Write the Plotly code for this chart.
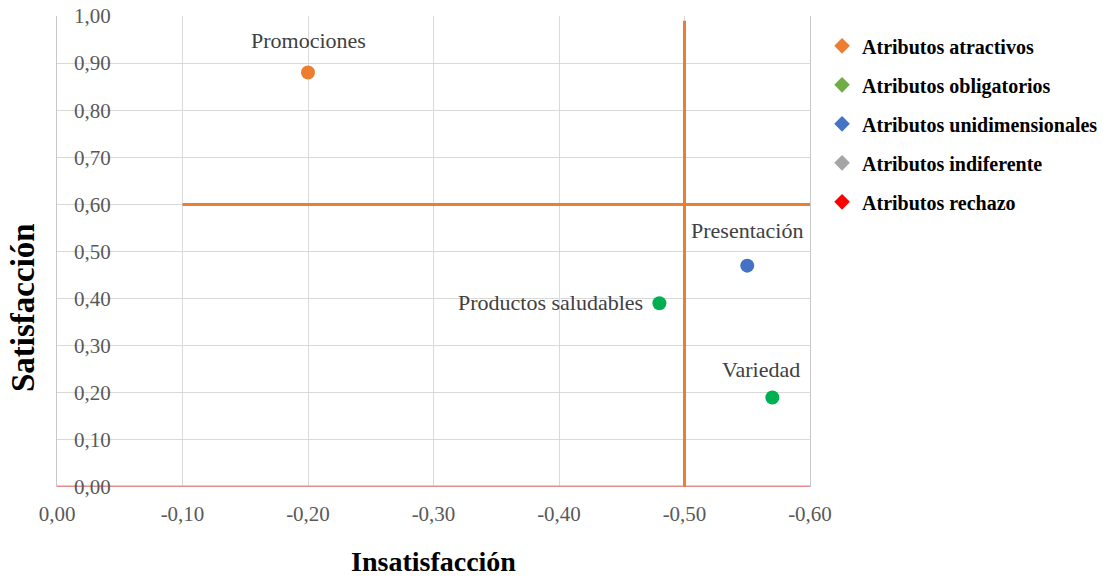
import plotly.graph_objects as go

# ---- data ----
attributes = ["Promociones", "Presentación", "Productos saludables", "Variedad"]
dissatisfaction = [-0.20, -0.55, -0.48, -0.57]
satisfaction = [0.88, 0.47, 0.39, 0.19]
category = ["Atributos atractivos", "Atributos unidimensionales",
            "Atributos obligatorios", "Atributos obligatorios"]

legend_names = ["Atributos atractivos", "Atributos obligatorios",
                "Atributos unidimensionales", "Atributos indiferente",
                "Atributos rechazo"]
legend_colors = ["#ED7D31", "#70AD47", "#4472C4", "#A5A5A5", "#FF0000"]
point_colors = {"Atributos atractivos": "#ED7D31",
                "Atributos obligatorios": "#00B050",
                "Atributos unidimensionales": "#4472C4"}

x_ticks = [0.0, -0.1, -0.2, -0.3, -0.4, -0.5, -0.6]
x_tick_labels = ["0,00", "-0,10", "-0,20", "-0,30", "-0,40", "-0,50", "-0,60"]
y_ticks = [0.0, 0.1, 0.2, 0.3, 0.4, 0.5, 0.6, 0.7, 0.8, 0.9, 1.0]
y_tick_labels = ["0,00", "0,10", "0,20", "0,30", "0,40", "0,50",
                 "0,60", "0,70", "0,80", "0,90", "1,00"]

x_title = "Insatisfacción"
y_title = "Satisfacción"

# threshold lines
sat_threshold_x = [-0.10, -0.60]
sat_threshold_y = [0.60, 0.60]
dis_threshold_x = [-0.50, -0.50]
dis_threshold_y = [0.0, 0.99]
zero_line_x = [0.0, -0.60]
zero_line_y = [0.0, 0.0]

# label placement (style)
label_xshift = [0, 0, -14, -11]
label_yshift = [32, 35, 1, 28]
label_xanchor = ["center", "center", "right", "center"]

SERIF = "Liberation Serif"

fig = go.Figure()

fig.add_trace(go.Scatter(x=zero_line_x, y=zero_line_y, mode="lines",
                         line=dict(color="#E38E8E", width=3),
                         showlegend=False, hoverinfo="skip", cliponaxis=False))
fig.add_trace(go.Scatter(x=sat_threshold_x, y=sat_threshold_y, mode="lines",
                         line=dict(color="#ED7D31", width=3),
                         showlegend=False, hoverinfo="skip", cliponaxis=False))
fig.add_trace(go.Scatter(x=dis_threshold_x, y=dis_threshold_y, mode="lines",
                         line=dict(color="#ED7D31", width=3),
                         showlegend=False, hoverinfo="skip", cliponaxis=False))

# points
for cat, col in point_colors.items():
    xs = [x for x, c in zip(dissatisfaction, category) if c == cat]
    ys = [y for y, c in zip(satisfaction, category) if c == cat]
    fig.add_trace(go.Scatter(x=xs, y=ys, mode="markers",
                             marker=dict(color=col, size=14, line=dict(width=0)),
                             showlegend=False, name=cat))

# legend entries
for i, (name, col) in enumerate(zip(legend_names, legend_colors)):
    fig.add_trace(go.Scatter(x=[None], y=[None], mode="markers", name=name,
                             legendgroup=f"g{i}",
                             marker=dict(symbol="diamond", color=col, size=16,
                                         line=dict(width=0))))

for name, x, y, xs, ys, xa in zip(attributes, dissatisfaction, satisfaction,
                                  label_xshift, label_yshift, label_xanchor):
    fig.add_annotation(x=x, y=y, text=name, showarrow=False,
                       xshift=xs, yshift=ys, xanchor=xa, yanchor="middle",
                       font=dict(family=SERIF, size=22, color="#404040"))

# y-axis title (placed like the reference, below centre)
fig.add_annotation(xref="paper", yref="paper", x=(23 - 57) / 753,
                   y=(487 - 308) / 471, text=y_title, textangle=-90,
                   showarrow=False, xanchor="center", yanchor="middle",
                   font=dict(family=SERIF, size=33, color="black",
                             weight="bold"))

fig.update_layout(
    width=1109, height=577,
    margin=dict(l=57, r=299, t=16, b=90, autoexpand=False),
    paper_bgcolor="white", plot_bgcolor="white",
    showlegend=True,
    legend=dict(x=1.016, y=0.978, xanchor="left", yanchor="top",
                traceorder="grouped", tracegroupgap=10,
                font=dict(family=SERIF, size=20, color="black", weight="bold"),
                itemsizing="constant"),
    xaxis=dict(range=[0, -0.6], tickvals=x_ticks, ticktext=x_tick_labels,
               showgrid=True, gridcolor="#D9D9D9", gridwidth=1,
               zeroline=False, showline=False, ticks="",
               ticklabelstandoff=12, automargin=False,
               tickfont=dict(family=SERIF, size=21, color="#595959"),
               title=dict(text=x_title, standoff=26,
                          font=dict(family=SERIF, size=28, color="black",
                                    weight="bold"))),
    yaxis=dict(range=[0, 1.0], tickvals=y_ticks, ticktext=y_tick_labels,
               showgrid=True, gridcolor="#D9D9D9", gridwidth=1,
               zeroline=False, showline=True, mirror=True,
               linecolor="#C8C8C8", linewidth=1, ticks="",
               ticklabelstandoff=-59, automargin=False,
               tickfont=dict(family=SERIF, size=21, color="#595959")),
)

fig.write_html("out.html")
